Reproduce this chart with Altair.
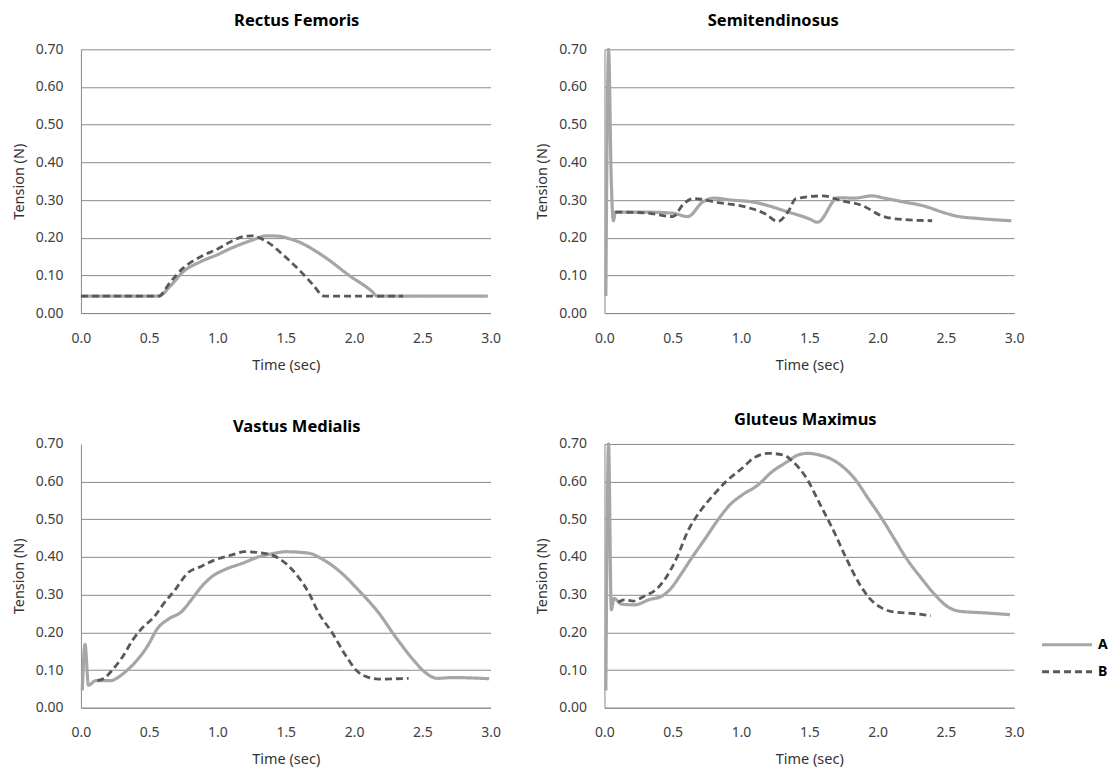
import altair as alt
import pandas as pd

# ---------------- data ----------------
SERIES = ["A", "B"]
COLORS = ["#a6a6a6", "#595959"]
DASHES = [[1, 0], [7, 4]]
WIDTHS = [3.2, 2.8]

X_TICKS = [0.0, 0.5, 1.0, 1.5, 2.0, 2.5, 3.0]
Y_TICKS = [0.0, 0.1, 0.2, 0.3, 0.4, 0.5, 0.6, 0.7]

MUSCLES = ["Rectus Femoris", "Semitendinosus", "Vastus Medialis", "Gluteus Maximus"]

rf_a_t = [0.0, 0.57, 0.65, 0.75, 0.88, 1.0, 1.1, 1.25, 1.36, 1.45, 1.52, 1.58, 1.8, 1.96, 2.13, 2.17, 2.98]
rf_a_v = [0.045, 0.045, 0.07, 0.11, 0.137, 0.155, 0.172, 0.193, 0.205, 0.204, 0.198, 0.191, 0.145, 0.101, 0.058, 0.045, 0.045]
rf_b_t = [0.0, 0.57, 0.65, 0.75, 0.88, 1.0, 1.1, 1.2, 1.25, 1.35, 1.5, 1.61, 1.7, 1.78, 2.36]
rf_b_v = [0.045, 0.045, 0.08, 0.12, 0.15, 0.17, 0.19, 0.204, 0.205, 0.192, 0.148, 0.11, 0.075, 0.045, 0.045]

st_a_t = [0.01, 0.03, 0.05, 0.065, 0.08, 0.3, 0.5, 0.61, 0.72, 0.8, 0.93, 1.1, 1.2, 1.33, 1.5, 1.56, 1.71, 1.83, 1.96, 2.05, 2.19, 2.33, 2.5, 2.57, 2.74, 2.98]
st_a_v = [0.045, 0.70, 0.35, 0.245, 0.268, 0.268, 0.265, 0.256, 0.295, 0.305, 0.30, 0.294, 0.285, 0.27, 0.25, 0.241, 0.306, 0.305, 0.311, 0.305, 0.295, 0.285, 0.265, 0.258, 0.251, 0.245]
st_b_t = [0.08, 0.3, 0.5, 0.58, 0.65, 0.82, 1.04, 1.18, 1.27, 1.35, 1.40, 1.6, 1.74, 1.89, 2.03, 2.13, 2.40]
st_b_v = [0.268, 0.266, 0.256, 0.29, 0.304, 0.294, 0.281, 0.263, 0.243, 0.272, 0.303, 0.311, 0.298, 0.285, 0.258, 0.25, 0.245]

vm_a_t = [0.01, 0.03, 0.055, 0.11, 0.22, 0.27, 0.34, 0.42, 0.49, 0.56, 0.64, 0.74, 0.81, 0.88, 0.96, 1.05, 1.18, 1.30, 1.42, 1.50, 1.67, 1.76, 1.91, 2.03, 2.18, 2.30, 2.43, 2.52, 2.61, 2.72, 2.99]
vm_a_v = [0.046, 0.168, 0.06, 0.072, 0.072, 0.08, 0.10, 0.13, 0.165, 0.21, 0.235, 0.256, 0.287, 0.32, 0.348, 0.366, 0.383, 0.40, 0.41, 0.414, 0.41, 0.396, 0.357, 0.313, 0.252, 0.19, 0.129, 0.094, 0.078, 0.08, 0.077]
vm_b_t = [0.12, 0.17, 0.23, 0.31, 0.38, 0.44, 0.54, 0.61, 0.69, 0.78, 0.88, 0.98, 1.10, 1.20, 1.32, 1.40, 1.50, 1.59, 1.67, 1.74, 1.84, 1.94, 2.02, 2.10, 2.18, 2.40]
vm_b_v = [0.072, 0.078, 0.10, 0.138, 0.18, 0.208, 0.243, 0.278, 0.313, 0.357, 0.375, 0.392, 0.405, 0.414, 0.411, 0.405, 0.383, 0.348, 0.304, 0.252, 0.199, 0.138, 0.098, 0.081, 0.076, 0.078]

gm_a_t = [0.01, 0.03, 0.05, 0.07, 0.125, 0.22, 0.33, 0.42, 0.49, 0.56, 0.64, 0.74, 0.84, 0.92, 1.01, 1.12, 1.23, 1.34, 1.42, 1.49, 1.59, 1.65, 1.73, 1.83, 1.93, 2.03, 2.12, 2.21, 2.32, 2.42, 2.51, 2.60, 2.77, 2.97]
gm_a_v = [0.046, 0.70, 0.26, 0.29, 0.275, 0.273, 0.287, 0.296, 0.318, 0.354, 0.398, 0.45, 0.503, 0.539, 0.565, 0.59, 0.627, 0.653, 0.671, 0.675, 0.669, 0.662, 0.644, 0.609, 0.556, 0.503, 0.45, 0.397, 0.344, 0.30, 0.269, 0.256, 0.252, 0.247]
gm_b_t = [0.10, 0.15, 0.21, 0.29, 0.38, 0.45, 0.53, 0.61, 0.70, 0.80, 0.89, 1.01, 1.09, 1.20, 1.31, 1.38, 1.48, 1.58, 1.68, 1.77, 1.87, 1.94, 2.03, 2.12, 2.26, 2.39]
gm_b_v = [0.28, 0.287, 0.283, 0.296, 0.314, 0.345, 0.398, 0.468, 0.521, 0.565, 0.60, 0.636, 0.662, 0.675, 0.671, 0.653, 0.609, 0.539, 0.468, 0.397, 0.327, 0.291, 0.265, 0.254, 0.25, 0.244]

series_data = {
    ("Rectus Femoris", "A"): (rf_a_t, rf_a_v),
    ("Rectus Femoris", "B"): (rf_b_t, rf_b_v),
    ("Semitendinosus", "A"): (st_a_t, st_a_v),
    ("Semitendinosus", "B"): (st_b_t, st_b_v),
    ("Vastus Medialis", "A"): (vm_a_t, vm_a_v),
    ("Vastus Medialis", "B"): (vm_b_t, vm_b_v),
    ("Gluteus Maximus", "A"): (gm_a_t, gm_a_v),
    ("Gluteus Maximus", "B"): (gm_b_t, gm_b_v),
}

rows = []
for (m, s), (ts, vs) in series_data.items():
    for i, (t, v) in enumerate(zip(ts, vs)):
        rows.append({"muscle": m, "series": s, "t": t, "v": v, "i": i})
df = pd.DataFrame(rows)

FONT = "Noto Sans"

legend = alt.Legend(
    title=None, orient="none", legendX=980, legendY=589,
    symbolType="M-10,0H10", symbolSize=25, symbolStrokeWidth=2.8,
    labelFontSize=14, labelFontWeight="bold", labelColor="black",
    labelFont=FONT, labelOffset=24, rowPadding=13,
)

# title dx, title offset, show top grid
panel_style = {
    "Rectus Femoris": (11, 13, True),
    "Semitendinosus": (-36, 13, True),
    "Vastus Medialis": (11, 1, False),
    "Gluteus Maximus": (-4, 8.5, True),
}


def panel(name):
    dx, off, top_grid = panel_style[name]
    grid_op = 1 if top_grid else {"condition": {"test": "datum.value > 0.65", "value": 0}, "value": 1}
    return alt.Chart(df).transform_filter(alt.datum.muscle == name).mark_line(
        interpolate="monotone"
    ).encode(
        x=alt.X("t:Q", scale=alt.Scale(domain=[0, 3], nice=False),
                axis=alt.Axis(values=X_TICKS, format=".1f", title="Time (sec)", grid=False,
                              labelFlush=False,
                              ticks=False, tickSize=0, labelPadding=18, titlePadding=13)),
        y=alt.Y("v:Q", scale=alt.Scale(domain=[0, 0.7], nice=False),
                axis=alt.Axis(values=Y_TICKS, format=".2f", title="Tension (N)", grid=True,
                              gridOpacity=grid_op, labelFlush=False,
                              ticks=False, tickSize=0, labelPadding=18, titlePadding=9)),
        color=alt.Color("series:N", scale=alt.Scale(domain=SERIES, range=COLORS), legend=legend),
        strokeDash=alt.StrokeDash("series:N", scale=alt.Scale(domain=SERIES, range=DASHES), legend=legend),
        strokeWidth=alt.StrokeWidth("series:N", scale=alt.Scale(domain=SERIES, range=WIDTHS), legend=None),
        order="i:Q",
    ).properties(
        width=410, height=264,
        title=alt.TitleParams(name, dx=dx, offset=off, fontSize=16.5, fontWeight="bold",
                              font=FONT, color="black", anchor="middle"),
    )


chart = alt.concat(
    *[panel(m) for m in MUSCLES], columns=2,
    spacing={"row": 131, "column": 114}, bounds="flush",
).resolve_scale(
    color="shared", strokeDash="shared", strokeWidth="shared"
).properties(
    padding={"left": 3, "top": 4, "right": 0, "bottom": 0},
    background="white",
).configure_view(stroke=None).configure_axis(
    labelFont=FONT, labelFontSize=14, labelColor="#404040",
    titleFont=FONT, titleFontSize=14.5, titleFontWeight="normal", titleColor="#333333",
    domainColor="#8a8a8a", gridColor="#8a8a8a", gridWidth=1, domainWidth=1,
)

chart.save("out.html", embed_options={"renderer": "svg", "actions": False})
